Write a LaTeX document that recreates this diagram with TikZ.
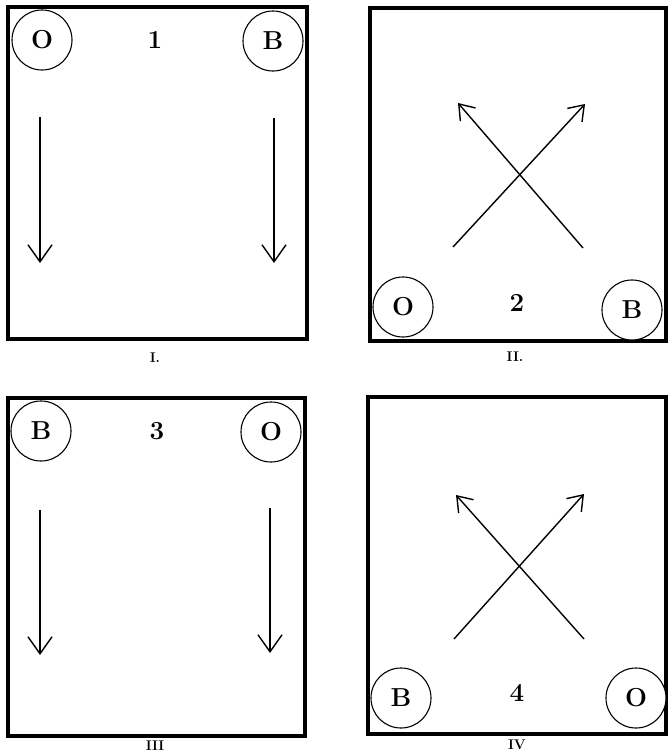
\documentclass[tikz,border=0pt]{standalone}
\usepackage{fontspec}
\usepackage{tikz}
\usetikzlibrary{arrows.meta}
\tikzset{
  playernode/.style={circle,draw,line width=1.1pt,minimum size=60pt,inner sep=0pt,fill=white,
    font=\fontsize{26}{28}\selectfont\bfseries},
  fieldbox/.style={draw,line width=3.6pt},
  fieldnum/.style={font=\fontsize{26}{28}\selectfont\bfseries},
  fieldcap/.style={font=\fontsize{14}{15}\selectfont\bfseries},
  runarrow/.style={-{Straight Barb[length=17pt,width=24pt,line width=1.4pt]},line width=1.4pt},
  crossarrow/.style={-{Straight Barb[length=14pt,width=20pt,line width=1.4pt]},line width=1.4pt}
}

\begin{document}
\begin{tikzpicture}[x=1pt,y=-1pt]
  \useasboundingbox (0,0) rectangle (668,755);
  % field I
  \draw[fieldbox] (8,7) rectangle (307,339);
  \node[playernode] (oI) at (42,40) {O};
  \node[playernode] (bI) at (273,41) {B};
  \node[fieldnum] (nI) at (155,40) {1};
  \node[fieldcap] (capI) at (155,358) {I.};
  \coordinate (oIa) at (40,117);
  \coordinate (oIb) at (40,263);
  \coordinate (bIa) at (274,118);
  \coordinate (bIb) at (274,263);
  \draw[runarrow] (oIa) -- (oIb);
  \draw[runarrow] (bIa) -- (bIb);
  % field II
  \draw[fieldbox] (370,8) rectangle (666,341);
  \node[playernode] (oII) at (403,307) {O};
  \node[playernode] (bII) at (632,310) {B};
  \node[fieldnum] (nII) at (517,303) {2};
  \node[fieldcap] (capII) at (515,357) {II.};
  \coordinate (oIIa) at (453,247);
  \coordinate (oIIb) at (585,104);
  \coordinate (bIIa) at (583,248);
  \coordinate (bIIb) at (458,103);
  \draw[crossarrow] (oIIa) -- (oIIb);
  \draw[crossarrow] (bIIa) -- (bIIb);
  % field III
  \draw[fieldbox] (8,398) rectangle (305,736);
  \node[playernode] (bIII) at (41,431) {B};
  \node[playernode] (oIII) at (271,432) {O};
  \node[fieldnum] (nIII) at (157,431) {3};
  \node[fieldcap] (capIII) at (155,746) {III};
  \coordinate (bIIIa) at (40,510);
  \coordinate (bIIIb) at (40,655);
  \coordinate (oIIIa) at (270,508);
  \coordinate (oIIIb) at (270,653);
  \draw[runarrow] (bIIIa) -- (bIIIb);
  \draw[runarrow] (oIIIa) -- (oIIIb);
  % field IV
  \draw[fieldbox] (368,397) rectangle (666,734);
  \node[playernode] (bIV) at (401,698) {B};
  \node[playernode] (oIV) at (636,698) {O};
  \node[fieldnum] (nIV) at (517,693) {4};
  \node[fieldcap] (capIV) at (517,745) {IV};
  \coordinate (bIVa) at (454,639);
  \coordinate (bIVb) at (584,494);
  \coordinate (oIVa) at (584,639);
  \coordinate (oIVb) at (456,495);
  \draw[crossarrow] (bIVa) -- (bIVb);
  \draw[crossarrow] (oIVa) -- (oIVb);
\end{tikzpicture}
\end{document}
